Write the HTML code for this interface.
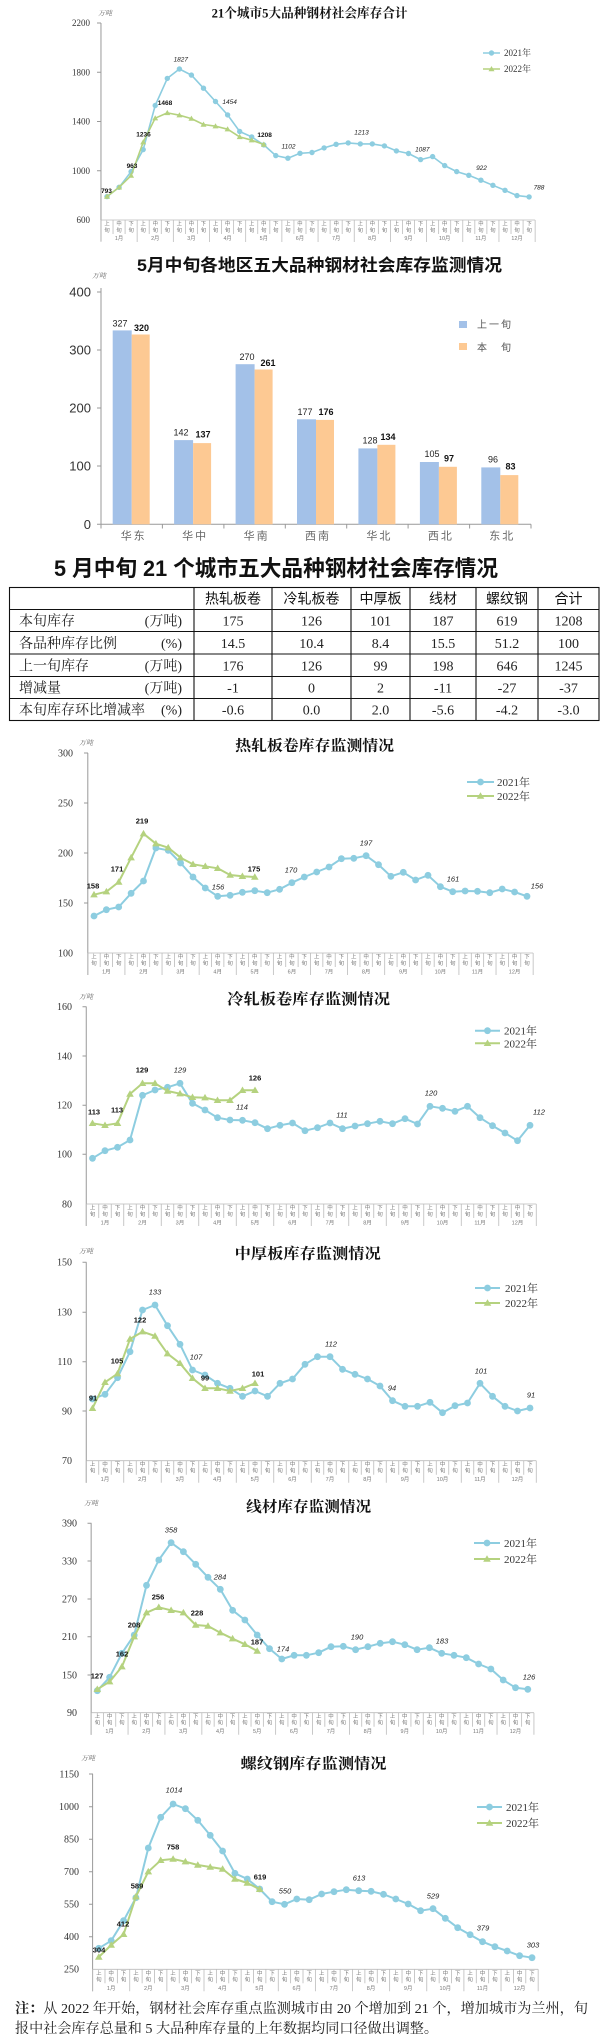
<!DOCTYPE html>
<html><head><meta charset="utf-8"><style>
body{margin:0;background:#fff}
svg{display:block}
.s{font-family:"Liberation Sans","Noto Sans CJK SC",sans-serif}
.r{font-family:"Liberation Serif","Noto Serif CJK SC",serif}
.cat path{stroke:#bbb;stroke-width:0.8;fill:none}
.cat text{font-family:"Liberation Sans","Noto Sans CJK SC",sans-serif;font-size:5.5px;fill:#777;text-anchor:middle}
.b21{fill:none;stroke:#8dcde0;stroke-width:2;stroke-linejoin:round;marker-start:url(#c);marker-mid:url(#c);marker-end:url(#c)}
.g22{fill:none;stroke:#b5d27f;stroke-width:2;stroke-linejoin:round;marker-start:url(#t);marker-mid:url(#t);marker-end:url(#t)}
.b21s{fill:none;stroke:#8dcde0;stroke-width:1.6;stroke-linejoin:round;marker-start:url(#cs);marker-mid:url(#cs);marker-end:url(#cs)}
.g22s{fill:none;stroke:#b5d27f;stroke-width:1.6;stroke-linejoin:round;marker-start:url(#ts);marker-mid:url(#ts);marker-end:url(#ts)}
.lb21{fill:none;stroke:#8dcde0;stroke-width:2;marker-mid:url(#c)}
.lg22{fill:none;stroke:#b5d27f;stroke-width:2;marker-mid:url(#t)}
.lb21s{fill:none;stroke:#8dcde0;stroke-width:1.6;marker-mid:url(#cs)}
.lg22s{fill:none;stroke:#b5d27f;stroke-width:1.6;marker-mid:url(#ts)}
.lb{font-family:"Liberation Sans",sans-serif;font-size:7.5px;font-weight:bold;fill:#111;text-anchor:middle}
.li{font-family:"Liberation Sans",sans-serif;font-size:7.5px;font-style:italic;fill:#222;text-anchor:middle}
.yt{font-family:"Liberation Serif",serif;font-size:10px;fill:#333;text-anchor:end}
.lg{font-family:"Liberation Serif","Noto Serif CJK SC",serif;font-size:11px;fill:#333}
.wd{font-family:"Liberation Serif","Noto Serif CJK SC",serif;font-size:7px;fill:#666;font-style:italic}
.ax{stroke:#999;stroke-width:1;fill:none}
.tt{font-family:"Liberation Serif","Noto Serif CJK SC",serif;font-size:15px;font-weight:bold;fill:#111;text-anchor:middle}
</style></head><body>
<svg width="600" height="2034" viewBox="0 0 600 2034" xmlns="http://www.w3.org/2000/svg">
<defs>
<marker id="c" viewBox="-4 -4 8 8" markerWidth="8" markerHeight="8" markerUnits="userSpaceOnUse" refX="0" refY="0"><circle r="3.4" fill="#8dcde0"/></marker>
<marker id="t" viewBox="-4 -4 8 8" markerWidth="8" markerHeight="8" markerUnits="userSpaceOnUse" refX="0" refY="0"><path d="M0 -3.8L3.8 2.7H-3.8Z" fill="#b5d27f"/></marker>
<marker id="cs" viewBox="-3 -3 6 6" markerWidth="6" markerHeight="6" markerUnits="userSpaceOnUse" refX="0" refY="0"><circle r="2.7" fill="#8dcde0"/></marker>
<marker id="ts" viewBox="-3 -3 6 6" markerWidth="6" markerHeight="6" markerUnits="userSpaceOnUse" refX="0" refY="0"><path d="M0 -3L3 2.2H-3Z" fill="#b5d27f"/></marker>
</defs>
<rect width="600" height="2034" fill="#fff"/>

<!-- ============ CHART A ============ -->
<text class="r" x="309.6" y="17.5" font-size="13" font-weight="bold" text-anchor="middle" textLength="196" lengthAdjust="spacingAndGlyphs" fill="#111">21个城市5大品种钢材社会库存合计</text>
<text class="wd" x="98" y="15.5">万吨</text>
<path class="ax" d="M100.97 23V241M97 23H101M97 72.3H101M97 121.5H101M97 170.8H101"/>
<g class="yt" style="font-size:9px">
<text x="90" y="26">2200</text><text x="90" y="75.3">1800</text><text x="90" y="124.5">1400</text><text x="90" y="173.8">1000</text><text x="90" y="223">600</text>
</g>
<g class="cat" transform="translate(107,220) scale(0.9726,1)">
<path d="M-6.2 0H440.2M-6.2 0V22M31 0V22M68.2 0V22M105.4 0V22M142.6 0V22M179.8 0V22M217 0V22M254.2 0V22M291.4 0V22M328.6 0V22M365.8 0V22M403 0V22M440.2 0V22M6.2 0V14M18.6 0V14M43.4 0V14M55.8 0V14M80.6 0V14M93 0V14M117.8 0V14M130.2 0V14M155 0V14M167.4 0V14M192.2 0V14M204.6 0V14M229.4 0V14M241.8 0V14M266.6 0V14M279 0V14M303.8 0V14M316.2 0V14M341 0V14M353.4 0V14M378.2 0V14M390.6 0V14M415.4 0V14M427.8 0V14"/>
<text x="0 12.4 24.8 37.2 49.6 62 74.4 86.8 99.2 111.6 124 136.4 148.8 161.2 173.6 186 198.4 210.8 223.2 235.6 248 260.4 272.8 285.2 297.6 310 322.4 334.8 347.2 359.6 372 384.4 396.8 409.2 421.6 434" y="5.5">上中下上中下上中下上中下上中下上中下上中下上中下上中下上中下上中下上中下</text>
<text x="0 12.4 24.8 37.2 49.6 62 74.4 86.8 99.2 111.6 124 136.4 148.8 161.2 173.6 186 198.4 210.8 223.2 235.6 248 260.4 272.8 285.2 297.6 310 322.4 334.8 347.2 359.6 372 384.4 396.8 409.2 421.6 434" y="12">旬旬旬旬旬旬旬旬旬旬旬旬旬旬旬旬旬旬旬旬旬旬旬旬旬旬旬旬旬旬旬旬旬旬旬旬</text>
<text y="20"><tspan x="12.4">1月</tspan><tspan x="49.6">2月</tspan><tspan x="86.8">3月</tspan><tspan x="124">4月</tspan><tspan x="161.2">5月</tspan><tspan x="198.4">6月</tspan><tspan x="235.6">7月</tspan><tspan x="272.8">8月</tspan><tspan x="310">9月</tspan><tspan x="347.2">10月</tspan><tspan x="384.4">11月</tspan><tspan x="421.6">12月</tspan></text>
</g>
<polyline class="b21s" points="107,196.6 119.1,187.3 131.1,171.6 143.2,149.6 155.2,105.5 167.3,78.4 179.4,69 191.4,75.1 203.5,88.2 215.5,101.5 227.6,114.9 239.7,131.5 251.7,136.9 263.8,144.9 275.8,155.6 287.9,158.2 300,153.3 312,152.5 324.1,147.9 336.1,144.3 348.2,142.9 360.3,143.9 372.3,143.9 384.4,145.9 396.4,150.9 408.5,153.5 420.6,159.6 432.6,156.6 444.7,165.6 456.7,171.6 468.8,175.3 480.9,180.2 492.9,185.3 505,190.3 517,195.6 529.1,196.9"/>
<polyline class="g22s" points="107,196.6 119.1,187.3 131.1,175.6 143.2,142.2 155.2,118.2 167.3,112.9 179.4,115.2 191.4,118.6 203.5,124.5 215.5,126.2 227.6,129.2 239.7,136.9 251.7,140.2 263.8,144.5"/>
<g class="lb" style="font-size:6.5px">
<text x="106.5" y="193">793</text><text x="132" y="168">963</text><text x="143.5" y="136.3">1236</text><text x="165" y="105">1468</text><text x="264.6" y="137">1208</text>
</g>
<g class="li" style="font-size:6.5px">
<text x="180.8" y="61.6">1827</text><text x="229.6" y="104">1454</text><text x="288.5" y="148.3">1102</text><text x="361.5" y="134.6">1213</text><text x="422.3" y="151.6">1087</text><text x="481.5" y="170">922</text><text x="539" y="189.6">788</text>
</g>
<path d="M483 53L491.5 53L500 53" class="lb21s"/>
<path d="M483 69L491.5 69L500 69" class="lg22s"/>
<text class="lg" style="font-size:9px" x="504" y="56">2021年</text>
<text class="lg" style="font-size:9px" x="504" y="72">2022年</text>

<!-- ============ BAR CHART ============ -->
<text class="s" x="319.5" y="271" font-size="17" font-weight="bold" text-anchor="middle" textLength="365" lengthAdjust="spacingAndGlyphs" fill="#111">5月中旬各地区五大品种钢材社会库存监测情况</text>
<text class="wd" x="92" y="278">万吨</text>
<path class="ax" d="M101 288V524.3H531M97 292H101M97 350H101M97 408H101M97 466H101M97 524.3H101M101 524.3V528.5M162.4 524.3V528.5M223.9 524.3V528.5M285.3 524.3V528.5M346.7 524.3V528.5M408.1 524.3V528.5M469.6 524.3V528.5M531 524.3V528.5"/>
<g class="s" font-size="13" fill="#333" text-anchor="end">
<text x="91" y="296.5">400</text><text x="91" y="354.5">300</text><text x="91" y="412.5">200</text><text x="91" y="470.5">100</text><text x="91" y="528.8">0</text>
</g>
<g fill="#a3c1e8">
<rect x="112.7" y="330.4" width="19" height="193.9"/>
<rect x="174.1" y="440.1" width="19" height="84.2"/>
<rect x="235.6" y="364.2" width="19" height="160.1"/>
<rect x="297" y="419.3" width="19" height="105"/>
<rect x="358.4" y="448.4" width="19" height="75.9"/>
<rect x="419.9" y="462" width="19" height="62.3"/>
<rect x="481.3" y="467.4" width="19" height="56.9"/>
</g>
<g fill="#fdc993">
<rect x="131.7" y="334.5" width="18" height="189.8"/>
<rect x="193.1" y="443.1" width="18" height="81.2"/>
<rect x="254.6" y="369.5" width="18" height="154.8"/>
<rect x="316" y="419.9" width="18" height="104.4"/>
<rect x="377.4" y="444.8" width="18" height="79.5"/>
<rect x="438.9" y="466.8" width="18" height="57.5"/>
<rect x="500.3" y="475.1" width="18" height="49.2"/>
</g>
<g class="s" font-size="9" fill="#222" text-anchor="middle">
<text x="120" y="326.5">327</text><text x="181" y="435.5">142</text><text x="247" y="360">270</text><text x="305" y="415">177</text><text x="370" y="443.5">128</text><text x="432" y="457">105</text><text x="493" y="462.5">96</text>
</g>
<g class="s" font-size="9" font-weight="bold" fill="#111" text-anchor="middle">
<text x="141.5" y="331">320</text><text x="203" y="437.5">137</text><text x="268" y="366">261</text><text x="326" y="415">176</text><text x="388" y="440">134</text><text x="449" y="461.5">97</text><text x="510.5" y="469.5">83</text>
</g>
<g class="s" font-size="11" fill="#666" text-anchor="middle" letter-spacing="2">
<text x="133.7" y="539.5">华东</text><text x="195.1" y="539.5">华中</text><text x="256.6" y="539.5">华南</text><text x="318" y="539.5">西南</text><text x="379.4" y="539.5">华北</text><text x="440.9" y="539.5">西北</text><text x="502.3" y="539.5">东北</text>
</g>
<rect x="459" y="321" width="8" height="7" fill="#a3c1e8"/>
<rect x="459" y="343" width="8" height="7" fill="#fdc993"/>
<g class="s" font-size="10" fill="#555" letter-spacing="2">
<text x="477" y="328">上一旬</text><text x="477" y="351">本　旬</text>
</g>

<!-- ============ TABLE ============ -->
<text class="s" x="276" y="576" font-size="22" font-weight="bold" text-anchor="middle" textLength="444" lengthAdjust="spacingAndGlyphs" fill="#111">5 月中旬 21 个城市五大品种钢材社会库存情况</text>
<g stroke="#111" stroke-width="1.1" fill="none">
<rect x="9.5" y="587.5" width="589.5" height="133"/>
<path d="M9.5 609.5H599M9.5 631.5H599M9.5 654H599M9.5 676.5H599M9.5 698.5H599M194 587.5V720.5M272 587.5V720.5M351 587.5V720.5M410 587.5V720.5M476 587.5V720.5M538 587.5V720.5"/>
</g>
<g class="s" font-size="14" fill="#111" text-anchor="middle">
<text x="233" y="603.5">热轧板卷</text><text x="311.5" y="603.5">冷轧板卷</text><text x="380.5" y="603.5">中厚板</text><text x="443" y="603.5">线材</text><text x="507" y="603.5">螺纹钢</text><text x="568.5" y="603.5">合计</text>
</g>
<g class="r" font-size="14" fill="#222">
<text x="19" y="625.5">本旬库存</text><text x="19" y="647.8">各品种库存比例</text><text x="19" y="670.3">上一旬库存</text><text x="19" y="692.5">增减量</text><text x="19" y="714.5">本旬库存环比增减率</text>
</g>
<g class="r" font-size="14" fill="#222" text-anchor="end">
<text x="182" y="625.5">(万吨)</text><text x="182" y="647.8">(%)</text><text x="182" y="670.3">(万吨)</text><text x="182" y="692.5">(万吨)</text><text x="182" y="714.5">(%)</text>
</g>
<g class="r" font-size="14" fill="#222" text-anchor="middle">
<text x="233" y="625.5">175</text><text x="311.5" y="625.5">126</text><text x="380.5" y="625.5">101</text><text x="443" y="625.5">187</text><text x="507" y="625.5">619</text><text x="568.5" y="625.5">1208</text>
<text x="233" y="647.8">14.5</text><text x="311.5" y="647.8">10.4</text><text x="380.5" y="647.8">8.4</text><text x="443" y="647.8">15.5</text><text x="507" y="647.8">51.2</text><text x="568.5" y="647.8">100</text>
<text x="233" y="670.3">176</text><text x="311.5" y="670.3">126</text><text x="380.5" y="670.3">99</text><text x="443" y="670.3">198</text><text x="507" y="670.3">646</text><text x="568.5" y="670.3">1245</text>
<text x="233" y="692.5">-1</text><text x="311.5" y="692.5">0</text><text x="380.5" y="692.5">2</text><text x="443" y="692.5">-11</text><text x="507" y="692.5">-27</text><text x="568.5" y="692.5">-37</text>
<text x="233" y="714.5">-0.6</text><text x="311.5" y="714.5">0.0</text><text x="380.5" y="714.5">2.0</text><text x="443" y="714.5">-5.6</text><text x="507" y="714.5">-4.2</text><text x="568.5" y="714.5">-3.0</text>
</g>

<!-- ============ CHART B hot rolled ============ -->
<text class="tt" x="314.6" y="750.5" textLength="159" lengthAdjust="spacingAndGlyphs">热轧板卷库存监测情况</text>
<text class="wd" x="79" y="745">万吨</text>
<path class="ax" d="M87.8 753V975M84 753H88M84 803H88M84 853H88M84 903H88"/>
<g class="yt"><text x="73" y="756.3">300</text><text x="73" y="806.3">250</text><text x="73" y="856.3">200</text><text x="73" y="906.3">150</text><text x="73" y="956.3">100</text></g>
<g class="cat" transform="translate(94,953) scale(0.9976,1)">
<path d="M-6.2 0H440.2M-6.2 0V22M31 0V22M68.2 0V22M105.4 0V22M142.6 0V22M179.8 0V22M217 0V22M254.2 0V22M291.4 0V22M328.6 0V22M365.8 0V22M403 0V22M440.2 0V22M6.2 0V14M18.6 0V14M43.4 0V14M55.8 0V14M80.6 0V14M93 0V14M117.8 0V14M130.2 0V14M155 0V14M167.4 0V14M192.2 0V14M204.6 0V14M229.4 0V14M241.8 0V14M266.6 0V14M279 0V14M303.8 0V14M316.2 0V14M341 0V14M353.4 0V14M378.2 0V14M390.6 0V14M415.4 0V14M427.8 0V14"/>
<text x="0 12.4 24.8 37.2 49.6 62 74.4 86.8 99.2 111.6 124 136.4 148.8 161.2 173.6 186 198.4 210.8 223.2 235.6 248 260.4 272.8 285.2 297.6 310 322.4 334.8 347.2 359.6 372 384.4 396.8 409.2 421.6 434" y="5.5">上中下上中下上中下上中下上中下上中下上中下上中下上中下上中下上中下上中下</text>
<text x="0 12.4 24.8 37.2 49.6 62 74.4 86.8 99.2 111.6 124 136.4 148.8 161.2 173.6 186 198.4 210.8 223.2 235.6 248 260.4 272.8 285.2 297.6 310 322.4 334.8 347.2 359.6 372 384.4 396.8 409.2 421.6 434" y="12">旬旬旬旬旬旬旬旬旬旬旬旬旬旬旬旬旬旬旬旬旬旬旬旬旬旬旬旬旬旬旬旬旬旬旬旬</text>
<text y="20.5"><tspan x="12.4">1月</tspan><tspan x="49.6">2月</tspan><tspan x="86.8">3月</tspan><tspan x="124">4月</tspan><tspan x="161.2">5月</tspan><tspan x="198.4">6月</tspan><tspan x="235.6">7月</tspan><tspan x="272.8">8月</tspan><tspan x="310">9月</tspan><tspan x="347.2">10月</tspan><tspan x="384.4">11月</tspan><tspan x="421.6">12月</tspan></text>
</g>
<polyline class="b21" points="94,916 106.4,909.7 118.7,907 131.1,893.3 143.5,881 155.9,848 168.2,850.3 180.6,863 193,877 205.3,888 217.7,896.3 230.1,895.3 242.4,892.3 254.8,890.7 267.2,892.7 279.6,889.3 291.9,882.7 304.3,877 316.7,872 329,867 341.4,858.7 353.8,858.3 366.1,855.7 378.5,864.7 390.9,876.3 403.3,872.3 415.6,880 428,875.3 440.4,886.7 452.7,891.7 465.1,891 477.5,891.3 489.8,892.7 502.2,889 514.6,892 527,896.3"/>
<polyline class="g22" points="94,894.7 106.4,891.7 118.7,882 131.1,857.7 143.5,833.7 155.9,843.7 168.2,847.7 180.6,857.7 193,864.3 205.3,866.3 217.7,868.3 230.1,875 242.4,876.3 254.8,877"/>
<g class="lb"><text x="93" y="888.7">158</text><text x="117" y="871.7">171</text><text x="142" y="823.7">219</text><text x="254" y="871.7">175</text></g>
<g class="li"><text x="218" y="889.7">156</text><text x="291" y="872.7">170</text><text x="366" y="845.7">197</text><text x="453" y="881.7">161</text><text x="537" y="888.7">156</text></g>
<path d="M467 782L480.5 782L494 782" class="lb21"/>
<path d="M467 796L480.5 796L494 796" class="lg22"/>
<text class="lg" x="497" y="786">2021年</text><text class="lg" x="497" y="800">2022年</text>

<!-- ============ CHART C cold rolled ============ -->
<text class="tt" x="308.6" y="1003.8" textLength="163" lengthAdjust="spacingAndGlyphs">冷轧板卷库存监测情况</text>
<text class="wd" x="79" y="999">万吨</text>
<path class="ax" d="M86.25 1006.7V1226M82.5 1006.7H86.5M82.5 1056H86.5M82.5 1105.3H86.5M82.5 1154.3H86.5"/>
<g class="yt"><text x="72" y="1010">160</text><text x="72" y="1059.3">140</text><text x="72" y="1108.6">120</text><text x="72" y="1157.6">100</text><text x="72" y="1207.3">80</text></g>
<g class="cat" transform="translate(92.5,1204) scale(1.0081,1)">
<path d="M-6.2 0H440.2M-6.2 0V22M31 0V22M68.2 0V22M105.4 0V22M142.6 0V22M179.8 0V22M217 0V22M254.2 0V22M291.4 0V22M328.6 0V22M365.8 0V22M403 0V22M440.2 0V22M6.2 0V14M18.6 0V14M43.4 0V14M55.8 0V14M80.6 0V14M93 0V14M117.8 0V14M130.2 0V14M155 0V14M167.4 0V14M192.2 0V14M204.6 0V14M229.4 0V14M241.8 0V14M266.6 0V14M279 0V14M303.8 0V14M316.2 0V14M341 0V14M353.4 0V14M378.2 0V14M390.6 0V14M415.4 0V14M427.8 0V14"/>
<text x="0 12.4 24.8 37.2 49.6 62 74.4 86.8 99.2 111.6 124 136.4 148.8 161.2 173.6 186 198.4 210.8 223.2 235.6 248 260.4 272.8 285.2 297.6 310 322.4 334.8 347.2 359.6 372 384.4 396.8 409.2 421.6 434" y="5.5">上中下上中下上中下上中下上中下上中下上中下上中下上中下上中下上中下上中下</text>
<text x="0 12.4 24.8 37.2 49.6 62 74.4 86.8 99.2 111.6 124 136.4 148.8 161.2 173.6 186 198.4 210.8 223.2 235.6 248 260.4 272.8 285.2 297.6 310 322.4 334.8 347.2 359.6 372 384.4 396.8 409.2 421.6 434" y="12">旬旬旬旬旬旬旬旬旬旬旬旬旬旬旬旬旬旬旬旬旬旬旬旬旬旬旬旬旬旬旬旬旬旬旬旬</text>
<text y="20.5"><tspan x="12.4">1月</tspan><tspan x="49.6">2月</tspan><tspan x="86.8">3月</tspan><tspan x="124">4月</tspan><tspan x="161.2">5月</tspan><tspan x="198.4">6月</tspan><tspan x="235.6">7月</tspan><tspan x="272.8">8月</tspan><tspan x="310">9月</tspan><tspan x="347.2">10月</tspan><tspan x="384.4">11月</tspan><tspan x="421.6">12月</tspan></text>
</g>
<polyline class="b21" points="92.5,1158.3 105,1150.7 117.5,1147.3 130,1140 142.5,1095.3 155,1090 167.5,1087.3 180,1083.3 192.5,1103.3 205,1110 217.5,1117.7 230,1120 242.5,1120.3 255,1122.7 267.5,1128.7 280,1125.3 292.5,1123 305,1130.7 317.5,1127.7 330,1123 342.5,1128.7 355,1126 367.5,1123.7 380,1121.3 392.5,1123.7 405,1118.7 417.5,1124 430,1106.3 442.5,1108.3 455,1111.3 467.5,1106.3 480,1117.7 492.5,1125.7 505,1133 517.5,1140.7 530,1125.3"/>
<polyline class="g22" points="92.5,1123.3 105,1125.3 117.5,1123.3 130,1094 142.5,1083.3 155,1083.3 167.5,1091 180,1093.7 192.5,1097.3 205,1097.7 217.5,1100.3 230,1100.3 242.5,1090.3 255,1090.3"/>
<g class="lb"><text x="94" y="1114.7">113</text><text x="117" y="1112.7">113</text><text x="142" y="1072.7">129</text><text x="255" y="1080.7">126</text></g>
<g class="li"><text x="180" y="1072.7">129</text><text x="242" y="1109.7">114</text><text x="342" y="1117.7">111</text><text x="431" y="1095.7">120</text><text x="539" y="1114.7">112</text></g>
<path d="M475 1030.7L487.5 1030.7L500 1030.7" class="lb21"/>
<path d="M475 1043.3L487.5 1043.3L500 1043.3" class="lg22"/>
<text class="lg" x="504" y="1034.7">2021年</text><text class="lg" x="504" y="1047.3">2022年</text>

<!-- ============ CHART D medium plate ============ -->
<text class="tt" x="307.7" y="1258.5" textLength="146" lengthAdjust="spacingAndGlyphs">中厚板库存监测情况</text>
<text class="wd" x="79" y="1253.5">万吨</text>
<path class="ax" d="M86.25 1262.3V1482.7M82.5 1262.3H86.5M82.5 1312.3H86.5M82.5 1361.7H86.5M82.5 1411H86.5"/>
<g class="yt"><text x="72" y="1265.6">150</text><text x="72" y="1315.6">130</text><text x="72" y="1365">110</text><text x="72" y="1414.3">90</text><text x="72" y="1464">70</text></g>
<g class="cat" transform="translate(92.5,1460.7) scale(1.0081,1)">
<path d="M-6.2 0H440.2M-6.2 0V22M31 0V22M68.2 0V22M105.4 0V22M142.6 0V22M179.8 0V22M217 0V22M254.2 0V22M291.4 0V22M328.6 0V22M365.8 0V22M403 0V22M440.2 0V22M6.2 0V14M18.6 0V14M43.4 0V14M55.8 0V14M80.6 0V14M93 0V14M117.8 0V14M130.2 0V14M155 0V14M167.4 0V14M192.2 0V14M204.6 0V14M229.4 0V14M241.8 0V14M266.6 0V14M279 0V14M303.8 0V14M316.2 0V14M341 0V14M353.4 0V14M378.2 0V14M390.6 0V14M415.4 0V14M427.8 0V14"/>
<text x="0 12.4 24.8 37.2 49.6 62 74.4 86.8 99.2 111.6 124 136.4 148.8 161.2 173.6 186 198.4 210.8 223.2 235.6 248 260.4 272.8 285.2 297.6 310 322.4 334.8 347.2 359.6 372 384.4 396.8 409.2 421.6 434" y="5.5">上中下上中下上中下上中下上中下上中下上中下上中下上中下上中下上中下上中下</text>
<text x="0 12.4 24.8 37.2 49.6 62 74.4 86.8 99.2 111.6 124 136.4 148.8 161.2 173.6 186 198.4 210.8 223.2 235.6 248 260.4 272.8 285.2 297.6 310 322.4 334.8 347.2 359.6 372 384.4 396.8 409.2 421.6 434" y="12">旬旬旬旬旬旬旬旬旬旬旬旬旬旬旬旬旬旬旬旬旬旬旬旬旬旬旬旬旬旬旬旬旬旬旬旬</text>
<text y="20.5"><tspan x="12.4">1月</tspan><tspan x="49.6">2月</tspan><tspan x="86.8">3月</tspan><tspan x="124">4月</tspan><tspan x="161.2">5月</tspan><tspan x="198.4">6月</tspan><tspan x="235.6">7月</tspan><tspan x="272.8">8月</tspan><tspan x="310">9月</tspan><tspan x="347.2">10月</tspan><tspan x="384.4">11月</tspan><tspan x="421.6">12月</tspan></text>
</g>
<polyline class="b21" points="92.5,1399 105,1394.3 117.5,1377.7 130,1351.7 142.5,1310 155,1305 167.5,1325.7 180,1344.3 192.5,1370 205,1375 217.5,1383.3 230,1388.3 242.5,1396.3 255,1391 267.5,1396.3 280,1383.3 292.5,1379 305,1364.3 317.5,1356.7 330,1356.7 342.5,1369.3 355,1374.3 367.5,1379 380,1386 392.5,1400.7 405,1406.3 417.5,1406.3 430,1402.3 442.5,1412.7 455,1405.7 467.5,1403 480,1383.3 492.5,1396.3 505,1406.3 517.5,1411 530,1408"/>
<polyline class="g22" points="92.5,1408.3 105,1382.3 117.5,1373.7 130,1339 142.5,1331.7 155,1336 167.5,1353.7 180,1363.3 192.5,1378.3 205,1388.3 217.5,1388.3 230,1391 242.5,1388.3 255,1383.3"/>
<g class="lb"><text x="93" y="1400.7">91</text><text x="117" y="1363.7">105</text><text x="140" y="1322.7">122</text><text x="205" y="1380.7">99</text><text x="258" y="1376.7">101</text></g>
<g class="li"><text x="155" y="1294.7">133</text><text x="196" y="1359.7">107</text><text x="331" y="1346.7">112</text><text x="392" y="1390.7">94</text><text x="481" y="1373.7">101</text><text x="531" y="1397.7">91</text></g>
<path d="M475 1288L487.5 1288L500 1288" class="lb21"/>
<path d="M475 1303L487.5 1303L500 1303" class="lg22"/>
<text class="lg" x="505" y="1292">2021年</text><text class="lg" x="505" y="1307">2022年</text>

<!-- ============ CHART E wire rod ============ -->
<text class="tt" x="308.7" y="1511.5" textLength="125" lengthAdjust="spacingAndGlyphs">线材库存监测情况</text>
<text class="wd" x="84" y="1505.5">万吨</text>
<path class="ax" d="M91.15 1523.3V1734.7M87.5 1523.3H91.5M87.5 1561H91.5M87.5 1599H91.5M87.5 1636.7H91.5M87.5 1675H91.5"/>
<g class="yt"><text x="77" y="1526.6">390</text><text x="77" y="1564.3">330</text><text x="77" y="1602.3">270</text><text x="77" y="1640">210</text><text x="77" y="1678.3">150</text><text x="77" y="1716">90</text></g>
<g class="cat" transform="translate(97.3,1712.7) scale(0.9919,1)">
<path d="M-6.2 0H440.2M-6.2 0V22M31 0V22M68.2 0V22M105.4 0V22M142.6 0V22M179.8 0V22M217 0V22M254.2 0V22M291.4 0V22M328.6 0V22M365.8 0V22M403 0V22M440.2 0V22M6.2 0V14M18.6 0V14M43.4 0V14M55.8 0V14M80.6 0V14M93 0V14M117.8 0V14M130.2 0V14M155 0V14M167.4 0V14M192.2 0V14M204.6 0V14M229.4 0V14M241.8 0V14M266.6 0V14M279 0V14M303.8 0V14M316.2 0V14M341 0V14M353.4 0V14M378.2 0V14M390.6 0V14M415.4 0V14M427.8 0V14"/>
<text x="0 12.4 24.8 37.2 49.6 62 74.4 86.8 99.2 111.6 124 136.4 148.8 161.2 173.6 186 198.4 210.8 223.2 235.6 248 260.4 272.8 285.2 297.6 310 322.4 334.8 347.2 359.6 372 384.4 396.8 409.2 421.6 434" y="5.5">上中下上中下上中下上中下上中下上中下上中下上中下上中下上中下上中下上中下</text>
<text x="0 12.4 24.8 37.2 49.6 62 74.4 86.8 99.2 111.6 124 136.4 148.8 161.2 173.6 186 198.4 210.8 223.2 235.6 248 260.4 272.8 285.2 297.6 310 322.4 334.8 347.2 359.6 372 384.4 396.8 409.2 421.6 434" y="12">旬旬旬旬旬旬旬旬旬旬旬旬旬旬旬旬旬旬旬旬旬旬旬旬旬旬旬旬旬旬旬旬旬旬旬旬</text>
<text y="20.5"><tspan x="12.4">1月</tspan><tspan x="49.6">2月</tspan><tspan x="86.8">3月</tspan><tspan x="124">4月</tspan><tspan x="161.2">5月</tspan><tspan x="198.4">6月</tspan><tspan x="235.6">7月</tspan><tspan x="272.8">8月</tspan><tspan x="310">9月</tspan><tspan x="347.2">10月</tspan><tspan x="384.4">11月</tspan><tspan x="421.6">12月</tspan></text>
</g>
<polyline class="b21" points="97.3,1690.7 109.6,1677.3 121.9,1653.3 134.2,1635 146.5,1585.3 158.8,1560 171.1,1542.7 183.4,1551.7 195.7,1564.3 208,1577.3 220.3,1589.3 232.6,1610.3 244.9,1620 257.2,1635 269.5,1648.7 281.8,1659 294.1,1655.3 306.4,1655.3 318.7,1652.7 331,1646.7 343.3,1646.3 355.6,1649.7 367.9,1646.7 380.2,1643.3 392.5,1641.7 404.8,1644.7 417.1,1649.7 429.4,1647.7 441.7,1653.3 454,1655.3 466.3,1657.7 478.6,1664 490.9,1669 503.2,1680 515.5,1687.7 527.8,1689.3"/>
<polyline class="g22" points="97.3,1689.3 109.6,1681.7 121.9,1666.7 134.2,1636.7 146.5,1612.7 158.8,1607.3 171.1,1610.3 183.4,1612.7 195.7,1625 208,1626 220.3,1632.7 232.6,1638.7 244.9,1644.3 257.2,1651"/>
<g class="lb"><text x="97" y="1678.7">127</text><text x="122" y="1656.7">162</text><text x="134" y="1627.7">208</text><text x="158" y="1599.7">256</text><text x="197" y="1615.7">228</text><text x="257" y="1644.7">187</text></g>
<g class="li"><text x="171" y="1532.7">358</text><text x="220" y="1579.7">284</text><text x="283" y="1651.7">174</text><text x="357" y="1639.7">190</text><text x="442" y="1643.7">183</text><text x="529" y="1679.7">126</text></g>
<path d="M474 1543L487 1543L500 1543" class="lb21"/>
<path d="M474 1559L487 1559L500 1559" class="lg22"/>
<text class="lg" x="504" y="1547">2021年</text><text class="lg" x="504" y="1563">2022年</text>

<!-- ============ CHART F rebar ============ -->
<text class="tt" x="313.5" y="1768.5" textLength="146" lengthAdjust="spacingAndGlyphs">螺纹钢库存监测情况</text>
<text class="wd" x="81" y="1760.5">万吨</text>
<path class="ax" d="M92.6 1774V1991.3M89 1774H93M89 1806.7H93M89 1839.3H93M89 1871.7H93M89 1904.3H93M89 1936.7H93"/>
<g class="yt"><text x="79" y="1777.3">1150</text><text x="79" y="1810">1000</text><text x="79" y="1842.6">850</text><text x="79" y="1875">700</text><text x="79" y="1907.6">550</text><text x="79" y="1940">400</text><text x="79" y="1972.6">250</text></g>
<g class="cat" transform="translate(98.8,1969.3) scale(0.9981,1)">
<path d="M-6.2 0H440.2M-6.2 0V22M31 0V22M68.2 0V22M105.4 0V22M142.6 0V22M179.8 0V22M217 0V22M254.2 0V22M291.4 0V22M328.6 0V22M365.8 0V22M403 0V22M440.2 0V22M6.2 0V14M18.6 0V14M43.4 0V14M55.8 0V14M80.6 0V14M93 0V14M117.8 0V14M130.2 0V14M155 0V14M167.4 0V14M192.2 0V14M204.6 0V14M229.4 0V14M241.8 0V14M266.6 0V14M279 0V14M303.8 0V14M316.2 0V14M341 0V14M353.4 0V14M378.2 0V14M390.6 0V14M415.4 0V14M427.8 0V14"/>
<text x="0 12.4 24.8 37.2 49.6 62 74.4 86.8 99.2 111.6 124 136.4 148.8 161.2 173.6 186 198.4 210.8 223.2 235.6 248 260.4 272.8 285.2 297.6 310 322.4 334.8 347.2 359.6 372 384.4 396.8 409.2 421.6 434" y="5.5">上中下上中下上中下上中下上中下上中下上中下上中下上中下上中下上中下上中下</text>
<text x="0 12.4 24.8 37.2 49.6 62 74.4 86.8 99.2 111.6 124 136.4 148.8 161.2 173.6 186 198.4 210.8 223.2 235.6 248 260.4 272.8 285.2 297.6 310 322.4 334.8 347.2 359.6 372 384.4 396.8 409.2 421.6 434" y="12">旬旬旬旬旬旬旬旬旬旬旬旬旬旬旬旬旬旬旬旬旬旬旬旬旬旬旬旬旬旬旬旬旬旬旬旬</text>
<text y="20.5"><tspan x="12.4">1月</tspan><tspan x="49.6">2月</tspan><tspan x="86.8">3月</tspan><tspan x="124">4月</tspan><tspan x="161.2">5月</tspan><tspan x="198.4">6月</tspan><tspan x="235.6">7月</tspan><tspan x="272.8">8月</tspan><tspan x="310">9月</tspan><tspan x="347.2">10月</tspan><tspan x="384.4">11月</tspan><tspan x="421.6">12月</tspan></text>
</g>
<polyline class="b21" points="98.8,1948.3 111.2,1940.7 123.6,1920.7 135.9,1897.7 148.3,1848 160.7,1817.3 173.1,1804 185.4,1808.7 197.8,1820.3 210.2,1835.3 222.6,1851 234.9,1873.3 247.3,1879 259.7,1889 272.1,1901.7 284.5,1904.3 296.8,1899 309.2,1899.7 321.6,1894 334,1891.7 346.3,1889.7 358.7,1890.7 371.1,1891.3 383.5,1894.3 395.8,1899 408.2,1904 420.6,1910.7 433,1908.7 445.3,1918.3 457.7,1927.7 470.1,1934.7 482.5,1941.7 494.9,1946.7 507.2,1951 519.6,1955.7 532,1957.7"/>
<polyline class="g22" points="98.8,1957 111.2,1945 123.6,1934.3 135.9,1896.7 148.3,1871.7 160.7,1860.3 173.1,1859 185.4,1861.7 197.8,1865 210.2,1867 222.6,1869 234.9,1879 247.3,1883 259.7,1889.3"/>
<g class="lb"><text x="99" y="1952.7">304</text><text x="123" y="1926.7">412</text><text x="137" y="1888.7">589</text><text x="173" y="1849.7">758</text><text x="260" y="1879.7">619</text></g>
<g class="li"><text x="174" y="1792.7">1014</text><text x="285" y="1893.7">550</text><text x="359" y="1880.7">613</text><text x="433" y="1898.7">529</text><text x="483" y="1930.7">379</text><text x="533" y="1947.7">303</text></g>
<path d="M477 1807L489.5 1807L502 1807" class="lb21"/>
<path d="M477 1823L489.5 1823L502 1823" class="lg22"/>
<text class="lg" x="506" y="1811">2021年</text><text class="lg" x="506" y="1827">2022年</text>

<!-- ============ NOTE ============ -->
<text class="r" x="15" y="2013" font-size="14" fill="#222" textLength="573" lengthAdjust="spacingAndGlyphs"><tspan font-weight="bold">注：</tspan>从 2022 年开始，钢材社会库存重点监测城市由 20 个增加到 21 个，增加城市为兰州，旬</text>
<text class="r" x="15" y="2033" font-size="14" fill="#222" textLength="423" lengthAdjust="spacingAndGlyphs">报中社会库存总量和 5 大品种库存量的上年数据均同口径做出调整。</text>
</svg>
</body></html>
